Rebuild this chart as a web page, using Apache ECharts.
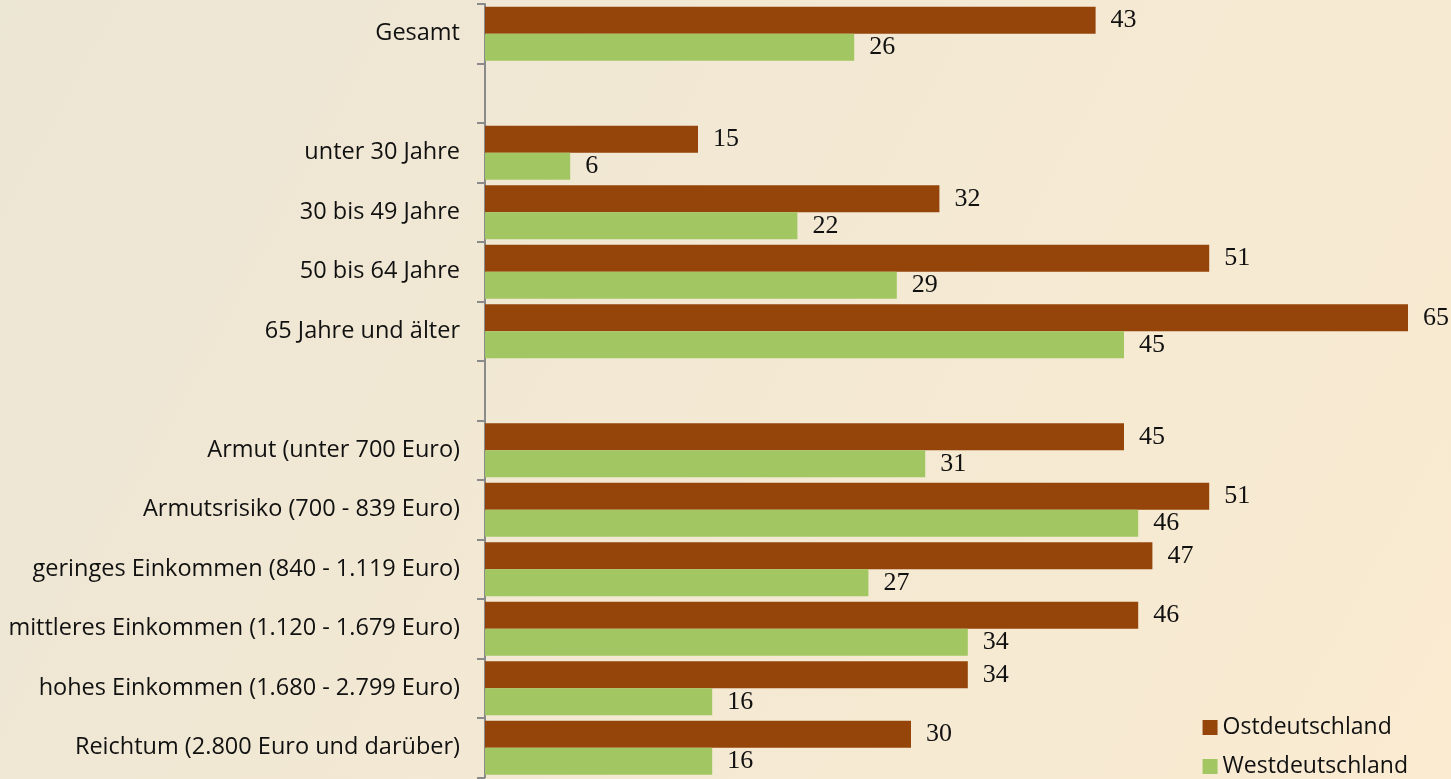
<!DOCTYPE html>
<html><head><meta charset="utf-8">
<script src="https://cdn.jsdelivr.net/npm/echarts@6/dist/echarts.min.js"></script>
<style>html,body{margin:0;padding:0;}#c{width:1451px;height:779px;}</style>
</head><body><div id="c"></div>
<script>
const categories = ['Gesamt', '', 'unter 30 Jahre', '30 bis 49 Jahre', '50 bis 64 Jahre', '65 Jahre und älter', '',
  'Armut (unter 700 Euro)', 'Armutsrisiko (700 - 839 Euro)', 'geringes Einkommen (840 - 1.119 Euro)',
  'mittleres Einkommen (1.120 - 1.679 Euro)', 'hohes Einkommen (1.680 - 2.799 Euro)', 'Reichtum (2.800 Euro und darüber)'];
const ostValues = [43, null, 15, 32, 51, 65, null, 45, 51, 47, 46, 34, 30];
const westValues = [26, null, 6, 22, 29, 45, null, 31, 46, 27, 34, 16, 16];
const seriesNames = ['Ostdeutschland', 'Westdeutschland'];

const chart = echarts.init(document.getElementById('c'));
const labelStyle = {show: true, position: 'right', distance: 15, fontFamily: '"Liberation Serif", serif', fontSize: 26, color: '#111'};
chart.setOption({
  backgroundColor: {type: 'linear', x: 0, y: 0, x2: 1, y2: 1, colorStops: [{offset: 0, color: '#ECE6D5'}, {offset: 1, color: '#FAEBD1'}]},
  animation: false,
  grid: {left: 485, right: 43, top: 4, bottom: 1.5},
  legend: {orient: 'vertical', right: 38, bottom: -4, itemWidth: 15, itemHeight: 15, itemGap: 16, icon: 'rect',
    textStyle: {fontFamily: '"Open Sans", sans-serif', fontSize: 23, color: '#111'}, data: seriesNames},
  xAxis: {type: 'value', min: 0, max: 65, show: false, splitLine: {show: false}},
  yAxis: {type: 'category', inverse: true, data: categories,
    axisLine: {show: true, lineStyle: {color: '#8a8a8a', width: 2}},
    axisTick: {show: true, length: 8, alignWithLabel: false, interval: 0, lineStyle: {color: '#8a8a8a', width: 2}},
    axisLabel: {margin: 25, interval: 0, padding: [6, 0, 0, 0], fontFamily: '"Open Sans", sans-serif', fontSize: 23.5, color: '#111'}},
  series: [
    {name: seriesNames[0], type: 'bar', data: ostValues, barGap: '0%', barCategoryGap: '9%',
      itemStyle: {color: '#95440A'}, label: labelStyle},
    {name: seriesNames[1], type: 'bar', data: westValues,
      itemStyle: {color: '#A2C762'}, label: labelStyle}
  ]
});
</script></body></html>
